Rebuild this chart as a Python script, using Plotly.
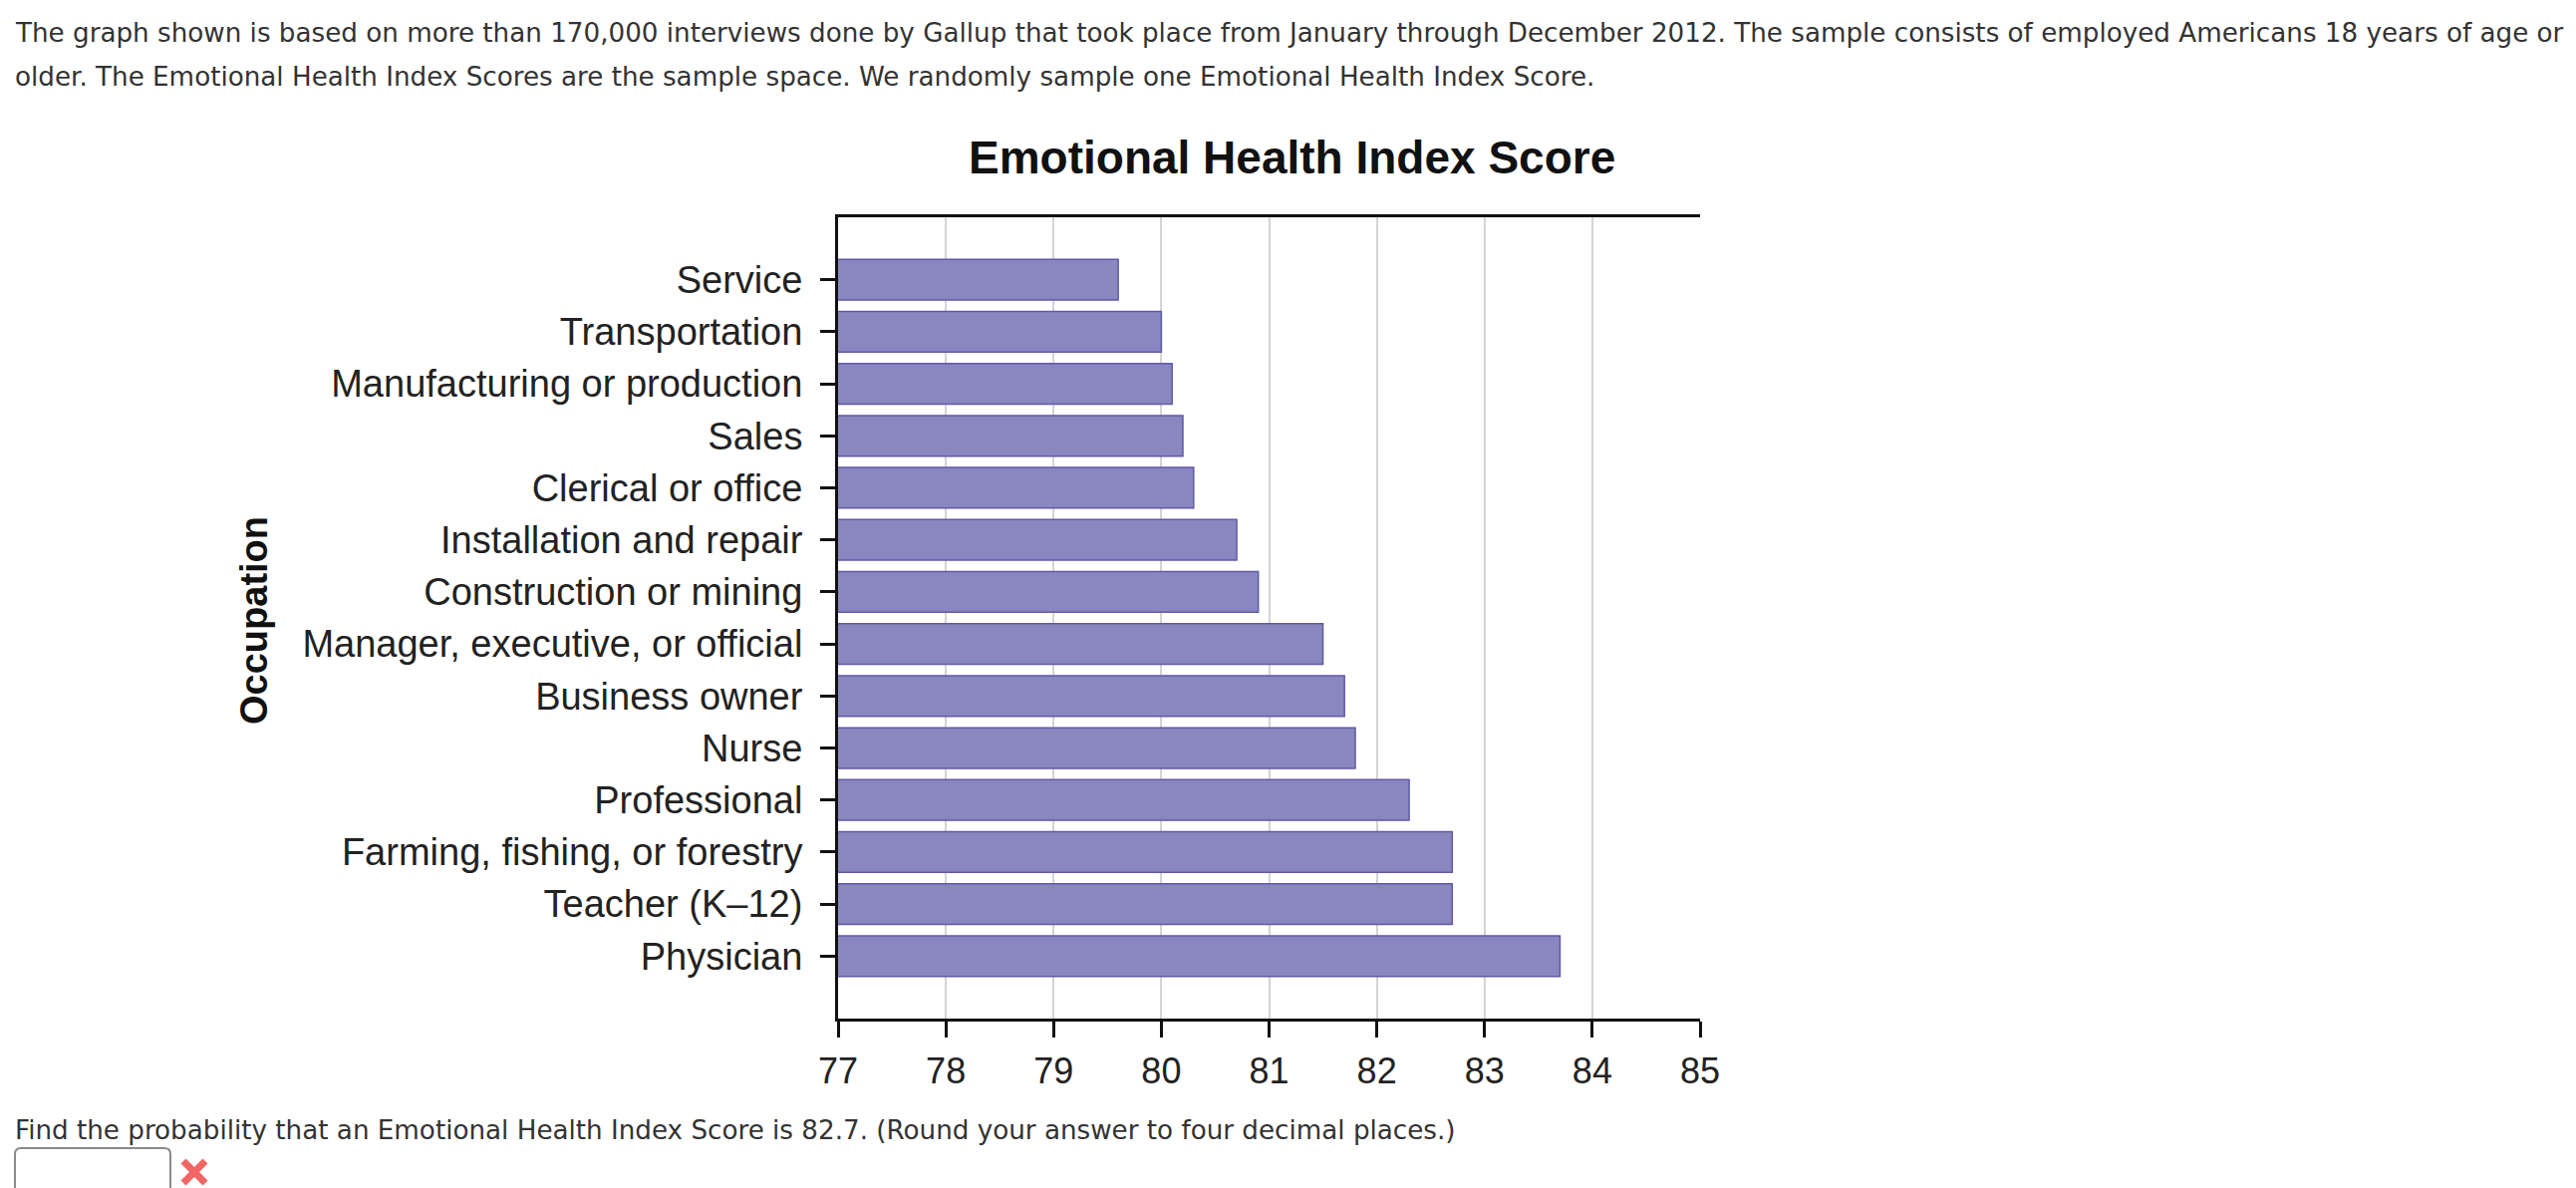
import plotly.graph_objects as go

occupations = [
    "Service", "Transportation", "Manufacturing or production", "Sales",
    "Clerical or office", "Installation and repair", "Construction or mining",
    "Manager, executive, or official", "Business owner", "Nurse",
    "Professional", "Farming, fishing, or forestry", "Teacher (K–12)", "Physician",
]
scores = [79.6, 80.0, 80.1, 80.2, 80.3, 80.7, 80.9, 81.5, 81.7, 81.8, 82.3, 82.7, 82.7, 83.7]
x_ticks = [77, 78, 79, 80, 81, 82, 83, 84, 85]

chart_title = "Emotional Health Index Score"
y_title = "Occupation"
intro_1 = ("The graph shown is based on more than 170,000 interviews done by Gallup that took place from "
           "January through December 2012. The sample consists of employed Americans 18 years of age or")
intro_2 = ("older. The Emotional Health Index Scores are the sample space. We randomly sample one "
           "Emotional Health Index Score.")
question = ("Find the probability that an Emotional Health Index Score is 82.7. "
            "(Round your answer to four decimal places.)")

W, H = 2585, 1192
PL, PR, PT, PB = 841, 1706, 218, 1022


def px(x):
    return (x - PL) / (PR - PL)


def py(y):
    return (PB - y) / (PB - PT)


n = len(occupations)
fig = go.Figure()
fig.add_trace(go.Bar(
    x=scores, y=list(range(n)), orientation="h",
    marker=dict(color="#8a87c0", line=dict(color="#5e5aa8", width=1.5)),
    width=0.78, hoverinfo="x+text", text=occupations, textposition="none",
))

chart_font = "Liberation Sans, Arial, sans-serif"
text_font = "DejaVu Sans, Verdana, sans-serif"

# rounded input box path (pixel coords converted to paper)
bx0, bx1, by0, by1, r = 15, 171, 1152, 1200, 6
box_path = (
    f"M {px(bx0 + r)} {py(by0)} L {px(bx1 - r)} {py(by0)} "
    f"Q {px(bx1)} {py(by0)} {px(bx1)} {py(by0 + r)} L {px(bx1)} {py(by1)} "
    f"L {px(bx0)} {py(by1)} L {px(bx0)} {py(by0 + r)} "
    f"Q {px(bx0)} {py(by0)} {px(bx0 + r)} {py(by0)} Z"
)

# red "incorrect" cross icon
cx, cy, hw = 195, 1176, 11
cross_shapes = [
    dict(type="line", xref="paper", yref="paper",
         x0=px(cx - hw), y0=py(cy - hw), x1=px(cx + hw), y1=py(cy + hw),
         line=dict(color="#f26565", width=7), layer="above"),
    dict(type="line", xref="paper", yref="paper",
         x0=px(cx - hw), y0=py(cy + hw), x1=px(cx + hw), y1=py(cy - hw),
         line=dict(color="#f26565", width=7), layer="above"),
]

fig.update_layout(
    width=W, height=H, autosize=False,
    margin=dict(l=PL, r=W - PR, t=PT, b=H - PB, pad=0),
    paper_bgcolor="white", plot_bgcolor="white",
    showlegend=False,
    xaxis=dict(
        range=[77, 85], tickvals=x_ticks, ticktext=[str(v) for v in x_ticks],
        showgrid=True, gridcolor="#d4d4d4", gridwidth=2,
        showline=True, linecolor="#111111", linewidth=3, mirror=True,
        ticks="outside", ticklen=16, tickwidth=3, tickcolor="#111111",
        ticklabelstandoff=3,
        tickfont=dict(family=chart_font, size=36, color="#222222"),
        zeroline=False, fixedrange=True,
    ),
    yaxis=dict(
        range=[n - 1 + 1.2, -1.2],
        tickvals=list(range(n)), ticktext=occupations,
        showgrid=False, showline=True, linecolor="#111111", linewidth=3, mirror=False,
        ticks="outside", ticklen=15, tickwidth=3, tickcolor="#111111",
        ticklabelstandoff=10,
        tickfont=dict(family=chart_font, size=38, color="#222222"),
        zeroline=False, fixedrange=True,
    ),
    annotations=[
        dict(text=chart_title, x=px(1296), y=py(158), xref="paper", yref="paper",
             xanchor="center", yanchor="middle", showarrow=False,
             font=dict(family=chart_font, size=46, color="#111111", weight="bold")),
        dict(text=y_title, x=px(255), y=py(623), xref="paper", yref="paper",
             xanchor="center", yanchor="middle", showarrow=False, textangle=-90,
             font=dict(family=chart_font, size=38, color="#111111", weight="bold")),
        dict(text=intro_1, x=px(13), y=py(33), xref="paper", yref="paper",
             xanchor="left", yanchor="middle", showarrow=False,
             font=dict(family=text_font, size=26.2, color="#333333")),
        dict(text=intro_2, x=px(13), y=py(77), xref="paper", yref="paper",
             xanchor="left", yanchor="middle", showarrow=False,
             font=dict(family=text_font, size=26.2, color="#333333")),
        dict(text=question, x=px(13), y=py(1134), xref="paper", yref="paper",
             xanchor="left", yanchor="middle", showarrow=False,
             font=dict(family=text_font, size=26.2, color="#333333")),
    ],
    shapes=[
        dict(type="path", xref="paper", yref="paper", path=box_path,
             line=dict(color="#8a8a8a", width=2), fillcolor="white", layer="above"),
    ] + cross_shapes,
)

fig.write_html("out.html")
